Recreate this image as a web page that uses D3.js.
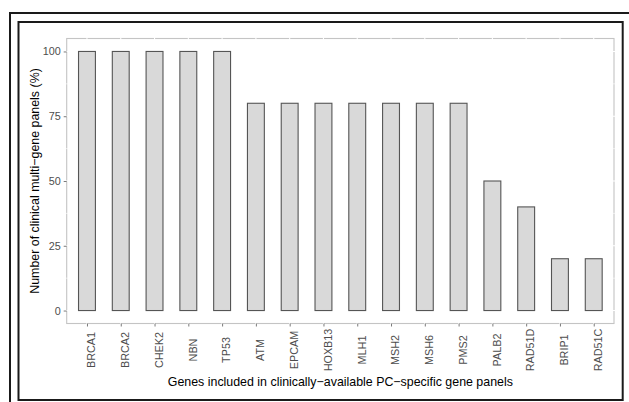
<!DOCTYPE html>
<html>
<head>
<meta charset="utf-8">
<script src="https://cdn.jsdelivr.net/npm/d3@7"></script>
<style>
  html, body { margin: 0; padding: 0; background: #fff; }
  svg { display: block; }
  text { font-family: "Liberation Sans", Arial, Helvetica, sans-serif; }
</style>
</head>
<body>
<svg id="chart" width="629" height="402"></svg>
<script>
const genes = ["BRCA1","BRCA2","CHEK2","NBN","TP53","ATM","EPCAM","HOXB13","MLH1","MSH2","MSH6","PMS2","PALB2","RAD51D","BRIP1","RAD51C"];
const panelPct = [100,100,100,100,100,80,80,80,80,80,80,80,50,40,20,20];
const yTicks = [0,25,50,75,100];
const yMinor = [12.5,37.5,62.5,87.5];
const xTitle = "Genes included in clinically\u2212available PC\u2212specific gene panels";
const yTitle = "Number of clinical multi\u2212gene panels (%)";

const svg = d3.select("#chart");

// outer decorative frames
svg.append("path").attr("d", "M10,402 L10,13 L629,13").attr("fill","none").attr("stroke","#1a1a1a").attr("stroke-width",2);
svg.append("rect").attr("x",18.5).attr("y",22).attr("width",604.2).attr("height",378)
  .attr("fill","none").attr("stroke","#1a1a1a").attr("stroke-width",2);

const pL = 66.7, pR = 614, pT = 38.5, pB = 323.5;

// discrete x scale with ggplot-like 0.6 expansion
const n = genes.length;
const step = (pR - pL) / (n - 1 + 1.2);
const x = d3.scalePoint().domain(genes).range([pL + 0.6*step, pR - 0.6*step]);
const y = d3.scaleLinear().domain([-5, 105]).range([pB, pT]);
const barW = step * 0.5;

// panel background with light border
svg.append("rect").attr("x",pL).attr("y",pT).attr("width",pR-pL).attr("height",pB-pT)
  .attr("fill","#fff").attr("stroke","#c4c4c4").attr("stroke-width",1.1);

// white grid lines (drawn over border)
const grid = svg.append("g").attr("stroke","#fff");
grid.selectAll(".gy").data(yTicks.concat(yMinor)).enter().append("line")
  .attr("x1",pL-1).attr("x2",pR+1).attr("y1",d=>y(d)).attr("y2",d=>y(d))
  .attr("stroke-width",d=>yTicks.includes(d)?1.1:0.6);
grid.selectAll(".gx").data(genes).enter().append("line")
  .attr("y1",pT-1).attr("y2",pB+1).attr("x1",d=>x(d)).attr("x2",d=>x(d)).attr("stroke-width",1.1);

// bars
svg.append("g").selectAll("rect").data(genes).enter().append("rect")
  .attr("x",d=>x(d)-barW/2)
  .attr("y",(d,i)=>y(panelPct[i]))
  .attr("width",barW)
  .attr("height",(d,i)=>y(0)-y(panelPct[i]))
  .attr("fill","#d9d9d9").attr("stroke","#555555").attr("stroke-width",1.1);

// y axis
const yAxis = d3.axisLeft(y).tickValues(yTicks).tickSize(3).tickPadding(3).tickFormat(d3.format("d"));
const ga = svg.append("g").attr("transform",`translate(${pL},0)`).call(yAxis);
ga.select(".domain").remove();
ga.selectAll(".tick line").attr("stroke","#7a7a7a");
ga.selectAll(".tick text").attr("fill",null).style("fill","#4d4d4d").style("font-size","10.8px")
  .style("font-family","'Liberation Sans', Arial, sans-serif");

// x axis
const xAxis = d3.axisBottom(x).tickSize(3).tickFormat("");
const gx = svg.append("g").attr("transform",`translate(0,${pB})`).call(xAxis);
gx.select(".domain").remove();
gx.selectAll(".tick line").attr("stroke","#7a7a7a");
svg.append("g").selectAll("text").data(genes).enter().append("text")
  .attr("transform",d=>`translate(${x(d)+8.3},350) rotate(-90)`)
  .attr("text-anchor","middle")
  .style("fill","#4d4d4d").style("font-size","10.8px")
  .text(d=>d);

// titles
svg.append("text").attr("x",(pL+pR)/2).attr("y",385.5).attr("text-anchor","middle")
  .style("fill","#000").style("font-size","12.4px").text(xTitle);
svg.append("text").attr("transform",`translate(39,${(pT+pB)/2}) rotate(-90)`).attr("text-anchor","middle")
  .style("fill","#000").style("font-size","12.4px").text(yTitle);
</script>
</body>
</html>
